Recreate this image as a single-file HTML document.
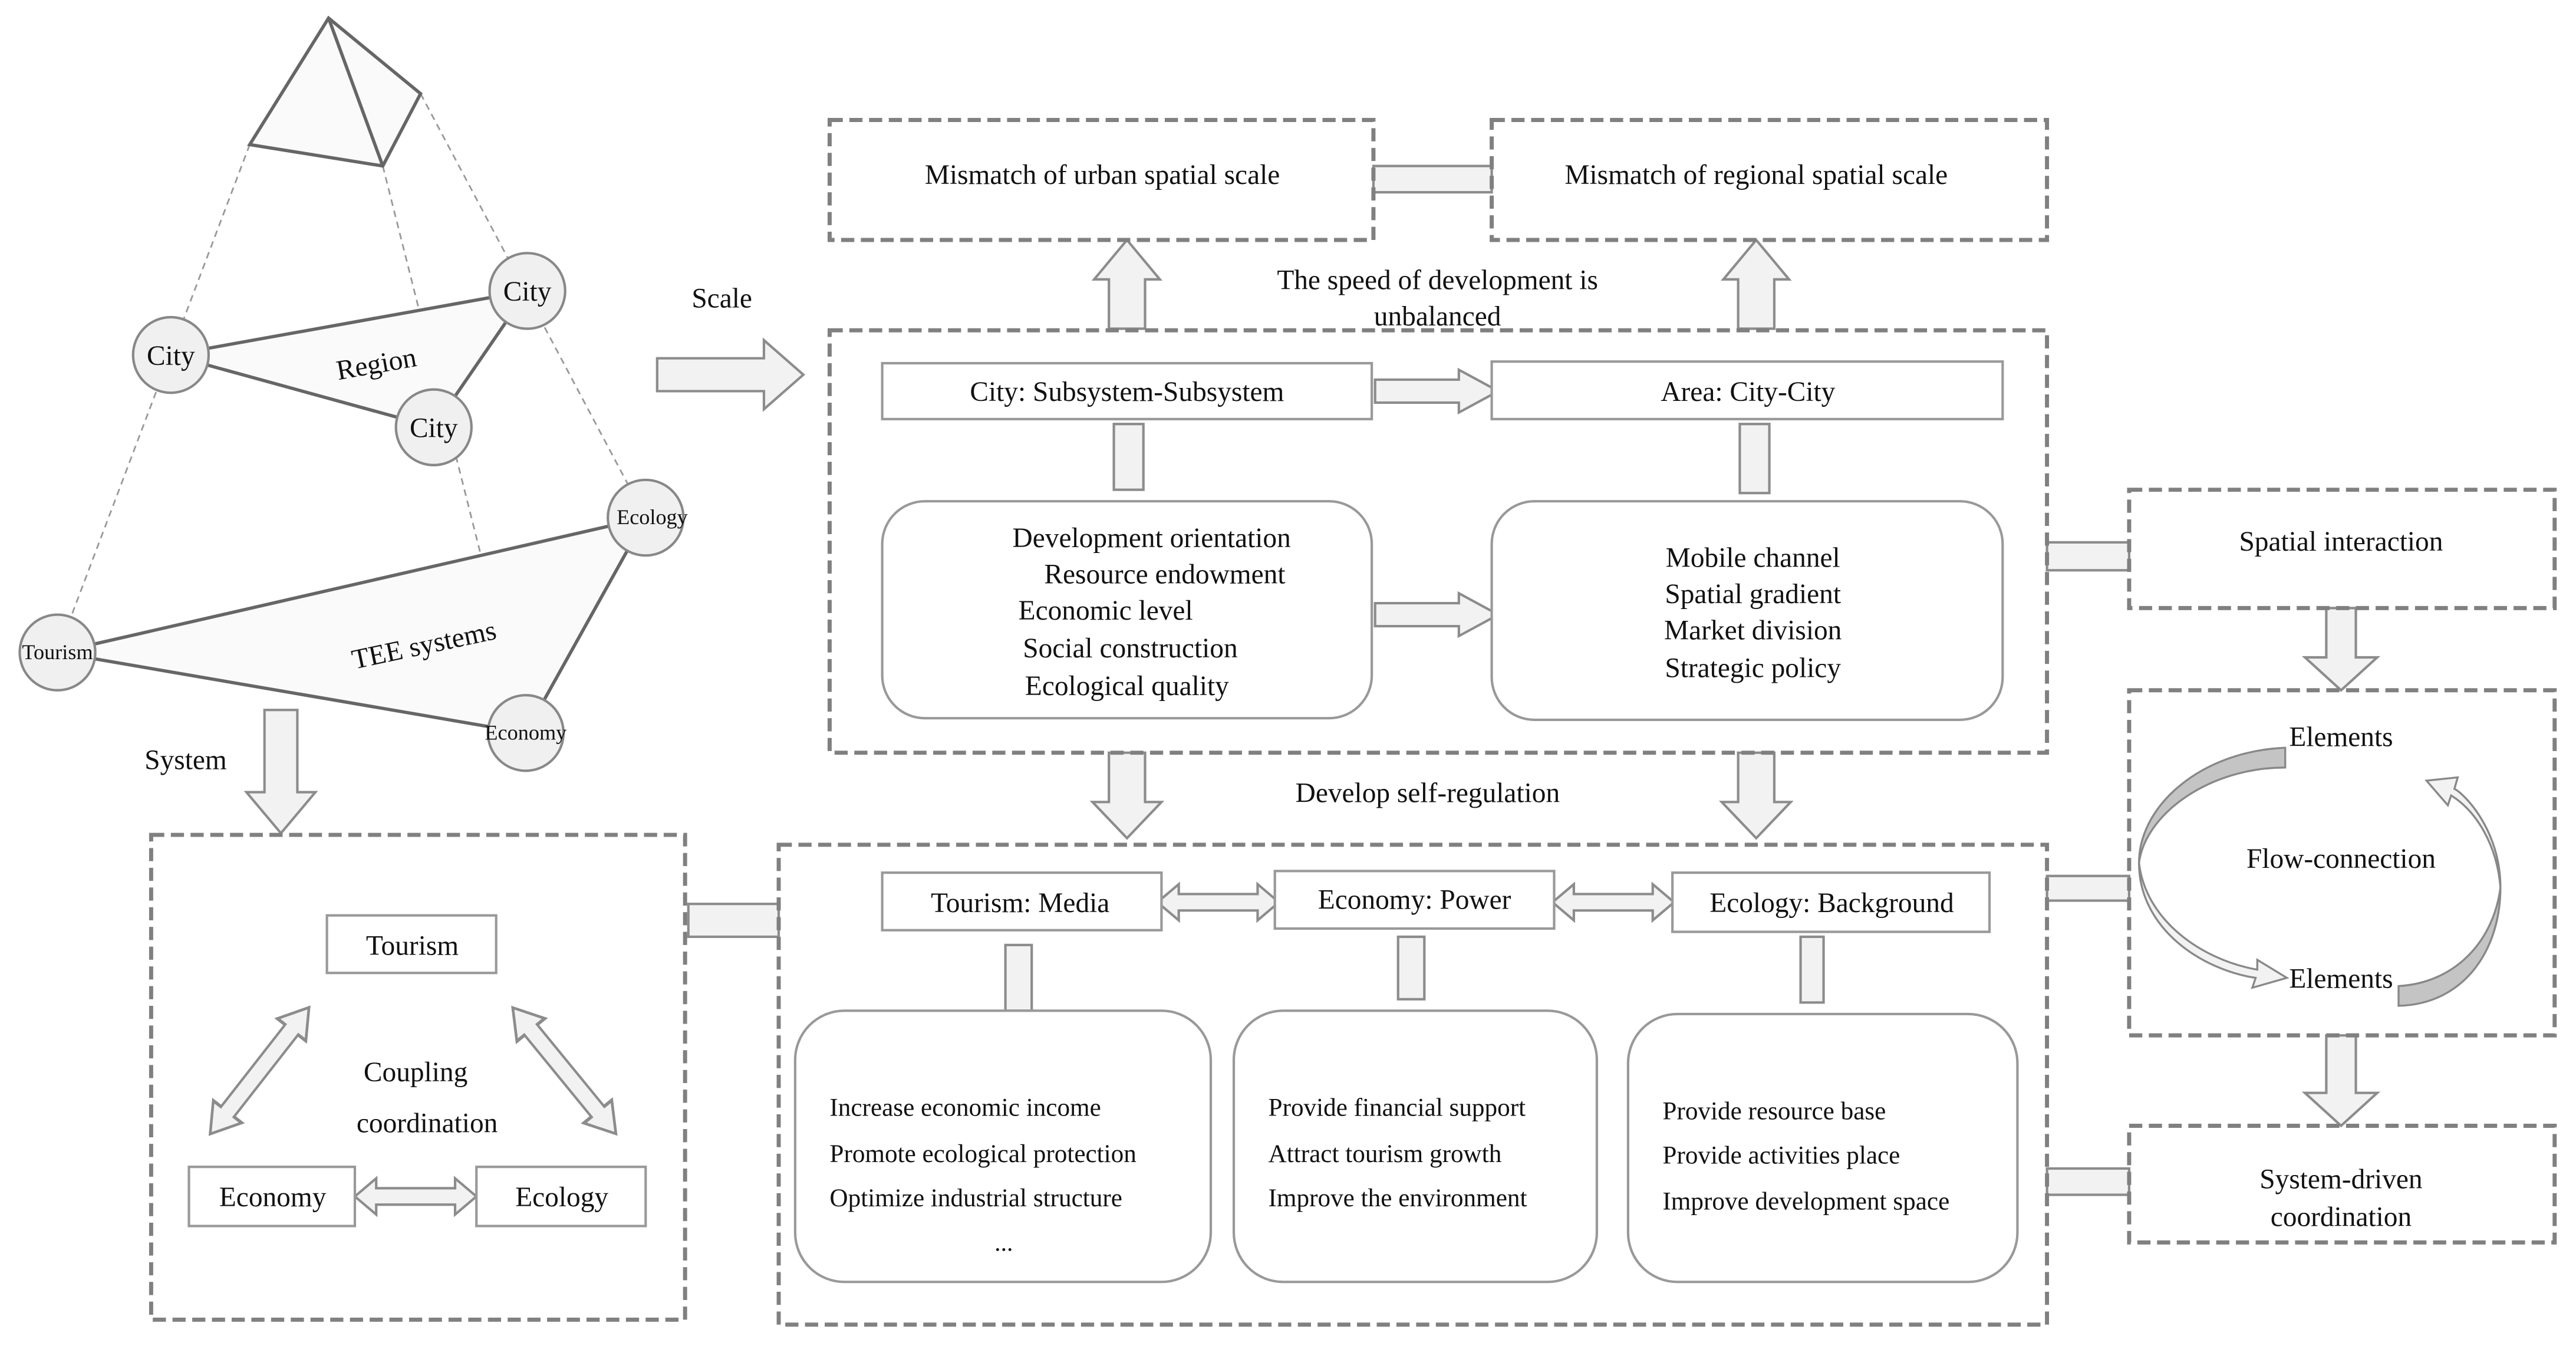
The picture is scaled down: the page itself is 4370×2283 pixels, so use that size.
<!DOCTYPE html>
<html><head><meta charset="utf-8"><style>
html,body{margin:0;padding:0;background:#fff;}
svg{display:block;}
text{font-family:"Liberation Serif","DejaVu Serif",serif;fill:#111;}
</style></head><body>
<svg width="4370" height="2283" viewBox="0 0 1568 819" preserveAspectRatio="none" xmlns="http://www.w3.org/2000/svg" font-family="'Liberation Serif', 'DejaVu Serif', serif">
<defs>
<g id="dbl"><polygon points="-37,0 -24,-11 -24,-5 24,-5 24,-11 37,0 24,11 24,5 -24,5 -24,11" fill="#f2f2f2" stroke="#8c8c8c" stroke-width="1.5"/></g>
</defs>
<g fill="none" stroke="#999" stroke-width="1" stroke-dasharray="4 3">
<line x1="152" y1="88" x2="35" y2="397"/>
<line x1="233" y1="101" x2="320" y2="446"/>
<line x1="256" y1="57" x2="393" y2="315"/>
<line x1="152" y1="88" x2="256" y2="57"/>
</g>
<g stroke="#666" stroke-width="2" fill="#fafafa">
<polygon points="200,11 152,88 233,101 256,57" fill="#fafafa"/>
<line x1="200" y1="11" x2="233" y2="101"/>
<polygon points="104,216 321,177 264,260"/>
<polygon points="35,397 393,315 320,446"/>
</g>
<g fill="#f0f0f0" stroke="#888" stroke-width="1.5">
<circle cx="104" cy="216" r="23"/><circle cx="321" cy="177" r="23"/><circle cx="264" cy="260" r="23"/>
<circle cx="393" cy="315" r="23"/><circle cx="35" cy="397" r="23"/><circle cx="320" cy="446" r="23"/>
</g>
<g font-size="17" text-anchor="middle">
<text x="104" y="222">City</text><text x="321" y="183">City</text><text x="264" y="266">City</text>
<text x="229" y="227" transform="rotate(-10 229 221)">Region</text>
<text x="258" y="398" transform="rotate(-12 258 392)">TEE systems</text>
</g>
<g font-size="13" text-anchor="middle">
<text x="397" y="319">Ecology</text><text x="35" y="401">Tourism</text><text x="320" y="450">Economy</text>
</g>
<g font-size="17">
<text x="421" y="187">Scale</text>
<text x="88" y="468">System</text>
</g>
<g fill="#f2f2f2" stroke="#8c8c8c" stroke-width="1.5">
<polygon points="400,218 465,218 465,207 489,228 465,249 465,238 400,238"/>
<polygon points="675,200 675,170 666,170 686,146 706,170 697,170 697,200"/>
<polygon points="1058,200 1058,170 1049,170 1069,146 1089,170 1080,170 1080,200"/>
<polygon points="675,458 675,488 665,488 686,510 707,488 697,488 697,458"/>
<polygon points="1058,458 1058,488 1048,488 1069,510 1090,488 1080,488 1080,458"/>
<polygon points="161,432 161,482 150,482 171,507 192,482 181,482 181,432"/>
<polygon points="1416,370 1416,400 1403,400 1425,420 1447,400 1434,400 1434,370"/>
<polygon points="1416,630 1416,665 1403,665 1425,685 1447,665 1434,665 1434,630"/>
<polygon points="837,231 888,231 888,225 912,238 888,251 888,245 837,245"/>
<polygon points="837,367 888,367 888,361 912,374 888,387 888,381 837,381"/>
<rect x="836" y="101" width="72" height="16"/>
<rect x="678" y="258" width="18" height="40"/><rect x="1059" y="258" width="18" height="42"/>
<rect x="612" y="575" width="16" height="40"/><rect x="851" y="570" width="16" height="38"/><rect x="1096" y="570" width="14" height="40"/>
<rect x="419" y="550" width="55" height="20"/>
<rect x="1246" y="330" width="50" height="17"/><rect x="1246" y="533" width="50" height="15"/><rect x="1246" y="711" width="50" height="16"/>
</g>
<use href="#dbl" transform="translate(741.5,549)"/>
<use href="#dbl" transform="translate(982,549)"/>
<use href="#dbl" transform="translate(253,728)"/>
<use href="#dbl" transform="translate(158,651.5) rotate(-52) scale(1.32,1)"/>
<use href="#dbl" transform="translate(343.5,651.5) rotate(50.7) scale(1.34,1)"/>
<g fill="none" stroke="#808080" stroke-width="2.5" stroke-dasharray="8 4">
<rect x="505" y="73" width="331" height="73"/><rect x="908" y="73" width="338" height="73"/>
<rect x="505" y="201" width="741" height="257"/>
<rect x="474" y="514" width="772" height="292"/>
<rect x="92" y="508" width="325" height="295"/>
<rect x="1296" y="298" width="259" height="72"/>
<rect x="1296" y="420" width="259" height="210"/>
<rect x="1296" y="685" width="259" height="71"/>
</g>
<g fill="#fff" stroke="#999" stroke-width="1.5">
<rect x="537" y="221" width="298" height="34"/><rect x="908" y="220" width="311" height="35"/>
<rect x="537" y="305" width="298" height="132" rx="26"/><rect x="908" y="305" width="311" height="133" rx="26"/>
<rect x="537" y="531" width="170" height="35"/><rect x="776" y="530" width="170" height="35"/><rect x="1018" y="531" width="193" height="36"/>
<rect x="484" y="615" width="253" height="165" rx="30"/><rect x="751" y="615" width="221" height="165" rx="30"/><rect x="991" y="617" width="237" height="163" rx="30"/>
<rect x="199" y="557" width="103" height="35"/><rect x="115" y="710" width="101" height="36"/><rect x="290" y="710" width="103" height="36"/>
</g>
<path d="M1391,455 C1340,457 1302,490 1302,525 C1306,495 1345,467 1391,467 Z" fill="#c4c4c4" stroke="#888" stroke-width="1.2"/>
<path d="M1302,525 C1302,565 1340,590 1373,595 L1371,601 L1392,595 L1374,584 L1374,590 C1340,584 1306,560 1302,525 Z" fill="#f2f2f2" stroke="#888" stroke-width="1.2"/>
<path d="M1460,612 C1500,611 1522,578 1522,540 C1518,572 1495,598 1460,600 Z" fill="#c4c4c4" stroke="#888" stroke-width="1.2"/>
<path d="M1522,540 C1522,505 1500,483 1494,480 L1496,473 L1477,475 L1490,490 L1492,484 C1508,494 1520,515 1522,540 Z" fill="#f2f2f2" stroke="#888" stroke-width="1.2"/>
<g font-size="17" text-anchor="middle">
<text x="671" y="112">Mismatch of urban spatial scale</text>
<text x="1069" y="112">Mismatch of regional spatial scale</text>
<text x="875" y="176">The speed of development is</text>
<text x="875" y="198">unbalanced</text>
<text x="686" y="244">City: Subsystem-Subsystem</text>
<text x="1064" y="244">Area: City-City</text>
<text x="701" y="333">Development orientation</text>
<text x="709" y="355">Resource endowment</text>
<text x="673" y="377">Economic level</text>
<text x="688" y="400">Social construction</text>
<text x="686" y="423">Ecological quality</text>
<text x="1067" y="345">Mobile channel</text>
<text x="1067" y="367">Spatial gradient</text>
<text x="1067" y="389">Market division</text>
<text x="1067" y="412">Strategic policy</text>
<text x="869" y="488">Develop self-regulation</text>
<text x="621" y="555">Tourism: Media</text>
<text x="861" y="553">Economy: Power</text>
<text x="1115" y="555">Ecology: Background</text>
<text x="251" y="581">Tourism</text>
<text x="166" y="734">Economy</text>
<text x="342" y="734">Ecology</text>
<text x="253" y="658">Coupling</text>
<text x="260" y="689">coordination</text>
<text x="1425" y="335">Spatial interaction</text>
<text x="1425" y="454">Elements</text>
<text x="1425" y="528">Flow-connection</text>
<text x="1425" y="601">Elements</text>
<text x="1425" y="723">System-driven</text>
<text x="1425" y="746">coordination</text>
<text x="611" y="761" font-size="15">...</text>
</g>
<g font-size="15.5">
<text x="505" y="679">Increase economic income</text>
<text x="505" y="707">Promote ecological protection</text>
<text x="505" y="734">Optimize industrial structure</text>
<text x="772" y="679">Provide financial support</text>
<text x="772" y="707">Attract tourism growth</text>
<text x="772" y="734">Improve the environment</text>
<text x="1012" y="681">Provide resource base</text>
<text x="1012" y="708">Provide activities place</text>
<text x="1012" y="736">Improve development space</text>
</g>
</svg>
</body></html>
